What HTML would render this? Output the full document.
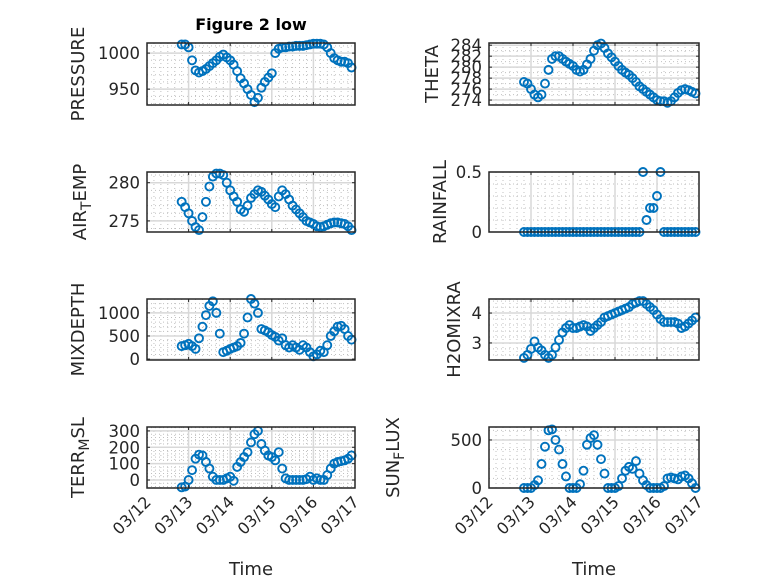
<!DOCTYPE html>
<html><head><meta charset="utf-8"><style>
html,body{margin:0;padding:0;background:#fff;}
svg{display:block;font-family:"DejaVu Sans","Liberation Sans",sans-serif;}
</style></head><body>
<svg id="fig" width="778" height="583" viewBox="0 0 778 583">
<text x="251" y="30" text-anchor="middle" font-weight="bold" font-size="16" fill="#000">Figure 2 low</text>
<text x="251" y="575" text-anchor="middle" font-size="18" fill="#262626">Time</text>
<text x="594" y="575" text-anchor="middle" font-size="18" fill="#262626">Time</text>
</svg>
<script>
const times = [0.833,0.917,1.0,1.083,1.167,1.25,1.333,1.417,1.5,1.583,1.667,1.75,1.833,1.917,2.0,2.083,2.167,2.25,2.333,2.417,2.5,2.583,2.667,2.75,2.833,2.917,3.0,3.083,3.167,3.25,3.333,3.417,3.5,3.583,3.667,3.75,3.833,3.917,4.0,4.083,4.167,4.25,4.333,4.417,4.5,4.583,4.667,4.75,4.833,4.917];
const xTickLabels = ["03/12","03/13","03/14","03/15","03/16","03/17"];
const pressure = [1012,1012,1008,990,976,973,975,978,982,986,990,995,998,994,990,984,975,965,958,950,942,932,938,952,960,966,972,1000,1006,1008,1008,1009,1009,1010,1010,1010,1011,1012,1013,1013,1013,1012,1008,1000,993,990,988,988,986,980];
const airTemp = [277.5,276.8,276,275,274.2,273.8,275.5,277.5,279.5,280.8,281.2,281.2,281,280,279,278.2,277.5,276.5,276.2,277,278,278.5,279,278.8,278.3,277.8,277.2,276.8,278.2,279,278.5,277.8,277,276.5,276,275.5,275,274.8,274.6,274.3,274.2,274.3,274.5,274.7,274.8,274.8,274.7,274.6,274.3,273.8];
const theta = [277.3,277,276,275,274.5,275,277,279.5,281.5,282,282,281.5,281,280.6,280.2,279.5,279.2,279.5,280.5,281.5,283,284,284.3,283.5,282.5,281.8,281,280.2,279.5,279,278.6,278,277.3,276.5,276,275.5,275,274.5,274,273.8,273.8,273.5,273.8,274.5,275.3,275.8,276,275.8,275.5,275.2];
const rainfall = [0,0,0,0,0,0,0,0,0,0,0,0,0,0,0,0,0,0,0,0,0,0,0,0,0,0,0,0,0,0,0,0,0,0,0.5,0.1,0.2,0.2,0.3,0.5,0,0,0,0,0,0,0,0,0,0];
const mixDepth = [280,300,330,280,220,450,700,950,1150,1250,1000,550,150,180,220,250,280,350,550,900,1300,1200,1000,650,620,580,520,480,400,450,300,250,300,250,200,300,250,150,60,100,180,150,300,500,600,700,720,650,500,420];
const h2o = [2.5,2.6,2.8,3.05,2.85,2.75,2.6,2.5,2.6,2.85,3.1,3.35,3.5,3.6,3.5,3.5,3.55,3.6,3.55,3.4,3.5,3.6,3.7,3.85,3.9,3.95,4.0,4.05,4.1,4.15,4.2,4.3,4.35,4.4,4.4,4.3,4.2,4.1,3.95,3.8,3.7,3.7,3.7,3.7,3.65,3.5,3.55,3.65,3.75,3.85];
const terrMsl = [-45,-40,0,60,130,155,150,110,70,20,0,0,0,10,20,-5,80,110,140,170,230,280,300,220,180,150,140,120,170,70,10,0,0,0,0,0,5,20,0,10,0,0,30,70,100,110,115,120,130,150];
const sunFlux = [0,0,0,30,80,250,430,600,610,500,400,250,120,0,0,0,40,180,450,520,550,450,300,150,0,0,0,20,100,180,220,200,280,150,80,30,0,0,0,0,20,100,110,100,90,120,130,100,50,0];
const pressureTicks = [950,1000];
const airTempTicks = [275,280];
const thetaTicks = [274,276,278,280,282,284];
const rainTicks = [0,0.5];
const mixTicks = [0,500,1000];
const h2oTicks = [3,4];
const terrTicks = [0,100,200,300];
const sunTicks = [0,500];

const NS = "http://www.w3.org/2000/svg";
const svg = document.getElementById('fig');
function el(tag, attrs, parent){ const e=document.createElementNS(NS,tag); for(const k in attrs) e.setAttribute(k,attrs[k]); (parent||svg).appendChild(e); return e; }

const panels = [
 {name:'pressure', x0:147,x1:355,y0:43,y1:105,ymin:928,ymax:1014,ticks:pressureTicks,minor:10,data:pressure,label:['PRESSURE'],lx:84,xl:false},
 {name:'air-temp', x0:147,x1:355,y0:172,y1:232,ymin:273.55,ymax:281.4,ticks:airTempTicks,minor:1,data:airTemp,label:['AIR','T','EMP'],lx:86,xl:false},
 {name:'mixdepth', x0:147,x1:355,y0:299,y1:360,ymin:-20,ymax:1300,ticks:mixTicks,minor:100,data:mixDepth,label:['MIXDEPTH'],lx:84,xl:false},
 {name:'terr-msl', x0:147,x1:355,y0:427,y1:488,ymin:-49,ymax:324,ticks:terrTicks,minor:20,data:terrMsl,label:['TERR','M','SL'],lx:84,xl:true},
 {name:'theta', x0:489,x1:699,y0:43,y1:105,ymin:273.1,ymax:284.4,ticks:thetaTicks,minor:1,data:theta,label:['THETA'],lx:438,xl:false},
 {name:'rainfall', x0:489,x1:699,y0:172,y1:232,ymin:0,ymax:0.5,ticks:rainTicks,minor:0.1,data:rainfall,label:['RAINFALL'],lx:446,xl:false},
 {name:'h2omixra', x0:489,x1:699,y0:299,y1:360,ymin:2.43,ymax:4.47,ticks:h2oTicks,minor:0.2,data:h2o,label:['H2OMIXRA'],lx:460,xl:false},
 {name:'sun-flux', x0:489,x1:699,y0:427,y1:488,ymin:0,ymax:635,ticks:sunTicks,minor:100,data:sunFlux,label:['SUN','F','LUX'],lx:399,xl:true}
];

panels.forEach(p=>{
  const g = el('g',{});
  
  
  const xs = t => p.x0 + t/5*(p.x1-p.x0);
  const ys = v => p.y1 - (v-p.ymin)/(p.ymax-p.ymin)*(p.y1-p.y0);
  for(let d=0; d<5; d++) for(let k=1;k<6;k++){
    const x = xs(d+k/6);
    el('line',{x1:x,x2:x,y1:p.y0,y2:p.y1,stroke:'#c0c0c0','stroke-width':1,'stroke-dasharray':'1 3'},g);
  }
  const start = Math.ceil(p.ymin/p.minor-1e-9);
  for(let i=start; i*p.minor<=p.ymax+1e-9; i++){
    const v=i*p.minor; const y=ys(v);
    el('line',{x1:p.x0,x2:p.x1,y1:y,y2:y,stroke:'#c0c0c0','stroke-width':1,'stroke-dasharray':'1 3'},g);
  }
  for(let d=1; d<5; d++){ const x=xs(d); el('line',{x1:x,x2:x,y1:p.y0,y2:p.y1,stroke:'#d8d8d8','stroke-width':1.5},g); }
  p.ticks.forEach(v=>{ const y=ys(v); el('line',{x1:p.x0,x2:p.x1,y1:y,y2:y,stroke:'#d8d8d8','stroke-width':1.5},g); });
  const sg = el('g',{},g);
  
  
  p.data.forEach((v,i)=>{
    const c = el('circle',{cx:xs(times[i]),cy:ys(v),r:4,fill:'none',stroke:'#0072BD','stroke-width':1.9},sg);
    
    
  });
  el('rect',{x:p.x0,y:p.y0,width:p.x1-p.x0,height:p.y1-p.y0,fill:'none',stroke:'#262626','stroke-width':1.5},g);
  for(let d=0; d<=5; d++){ const x=xs(d);
    el('line',{x1:x,x2:x,y1:p.y1,y2:p.y1-3,stroke:'#262626','stroke-width':1},g);
    el('line',{x1:x,x2:x,y1:p.y0,y2:p.y0+3,stroke:'#262626','stroke-width':1},g);
    if(p.xl){
      const t = el('text',{x:x+5,y:p.y1+15,'text-anchor':'end','font-size':16,fill:'#262626',transform:`rotate(-45 ${x+5} ${p.y1+15})`},g);
      t.textContent = xTickLabels[d];
      
      
    }
  }
  p.ticks.forEach(v=>{ const y=ys(v);
    el('line',{x1:p.x0,x2:p.x0+3,y1:y,y2:y,stroke:'#262626','stroke-width':1},g);
    el('line',{x1:p.x1,x2:p.x1-3,y1:y,y2:y,stroke:'#262626','stroke-width':1},g);
    const t = el('text',{x:p.x0-7,y:y+6,'text-anchor':'end','font-size':16.5,fill:'#262626'},g);
    t.textContent = String(v);
    
    
  });
  const cy=(p.y0+p.y1)/2;
  const lt = el('text',{x:p.lx,y:cy,'text-anchor':'middle','font-size':18,fill:'#262626',transform:`rotate(-90 ${p.lx} ${cy})`},g);
  
  
  if(p.label.length===1){ lt.textContent=p.label[0]; }
  else {
    const a=el('tspan',{},lt); a.textContent=p.label[0];
    const b=el('tspan',{dy:5,'font-size':14},lt); b.textContent=p.label[1];
    const c=el('tspan',{dy:-5},lt); c.textContent=p.label[2];
  }
});
</script>
</body></html>
